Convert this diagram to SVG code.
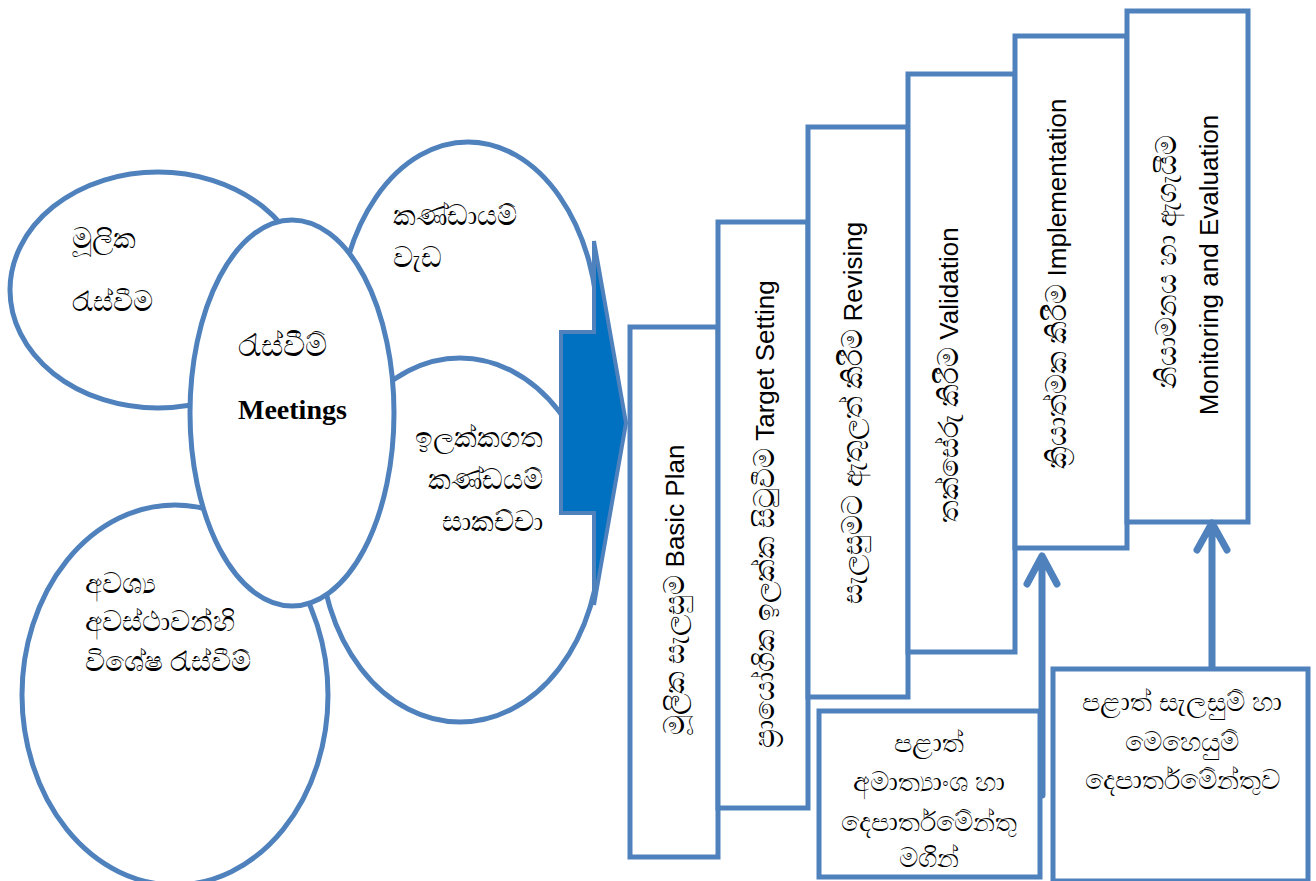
<svg xmlns="http://www.w3.org/2000/svg" width="1316" height="881" viewBox="0 0 1316 881">
<defs>
<style>
.sh{fill:#fff;stroke:#4F81BD;stroke-width:5}
.st{fill:#fff;stroke:#4F81BD;stroke-width:5}
.si{font-family:"Liberation Serif","Noto Sans",serif;font-size:28px;fill:#000}
.en{font-family:"Liberation Serif",serif;font-size:28px;font-weight:bold;fill:#000}
.rt{font-family:"Liberation Sans","Noto Sans",sans-serif;font-size:26px;fill:#000;text-anchor:middle}
.rs{font-size:28px}
.bx{font-family:"Liberation Serif","Noto Sans",serif;font-size:27px;fill:#000;text-anchor:middle}
.cn{fill:none;stroke:#4F81BD;stroke-width:7;stroke-linecap:round;stroke-linejoin:round}
</style>
</defs>
<rect width="1316" height="881" fill="#fff"/>

<g id="team-work">
<ellipse class="sh" cx="468" cy="330" rx="130" ry="188"/>
<text class="si" x="393" y="225">කණ්ඩායම්</text>
<text class="si" x="393" y="267">වැඩ</text>
</g>
<g id="targeted-discussions">
<ellipse class="sh" cx="460" cy="540" rx="140" ry="182"/>
<text class="si" x="543" y="447" text-anchor="end">ඉලක්කගත</text>
<text class="si" x="543" y="489" text-anchor="end">කණ්ඩයම්</text>
<text class="si" x="543" y="531" text-anchor="end">සාකච්චා</text>
</g>
<g id="basic-meetings">
<ellipse class="sh" cx="158" cy="290" rx="148" ry="118"/>
<text class="si" x="72" y="248">මූලික</text>
<text class="si" x="72" y="311">රැස්වීම</text>
</g>
<g id="special-meetings">
<ellipse class="sh" cx="175" cy="695" rx="153" ry="190"/>
<text class="si" x="85" y="593">අවශ්‍ය</text>
<text class="si" x="85" y="631">අවස්ථාවන්හි</text>
<text class="si" x="85" y="671">විශේෂ රැස්වීම්</text>
</g>
<g id="meetings">
<ellipse class="sh" cx="292" cy="413" rx="102" ry="193"/>
<text class="si" x="238" y="356" style="font-size:31px">රැස්වීම්</text>
<text class="en" x="238" y="419">Meetings</text>
</g>

<g id="big-arrow">
<polygon points="561,332 594,332 594,241 626,423 594,605 594,513 561,513" fill="#0070C0" stroke="#4F81BD" stroke-width="4" stroke-linejoin="miter"/>
</g>

<g id="step-basic-plan">
<rect class="st" x="630" y="327" width="88" height="530"/>
<text class="rt" transform="translate(684,590) rotate(-90)"><tspan class="rs">මූලික සැලසුම</tspan> Basic Plan</text>
</g>
<g id="step-target-setting">
<rect class="st" x="718" y="222" width="90" height="586"/>
<text class="rt" transform="translate(774,514) rotate(-90)"><tspan class="rs">ප්‍රායෝගික ඉලක්ක සිටුවීම</tspan> Target Setting</text>
</g>
<g id="step-revising">
<rect class="st" x="808" y="127" width="100" height="570"/>
<text class="rt" transform="translate(862,413) rotate(-90)"><tspan class="rs">සැලසුමට ඇතුලත් කිරීම</tspan> Revising</text>
</g>
<g id="step-validation">
<rect class="st" x="908" y="74" width="107" height="578"/>
<text class="rt" transform="translate(958,375) rotate(-90)"><tspan class="rs">තක්සේරු කිරීම</tspan> Validation</text>
</g>
<g id="step-implementation">
<rect class="st" x="1015" y="36" width="112" height="512"/>
<text class="rt" transform="translate(1066,284) rotate(-90)"><tspan class="rs">ක්‍රියාත්මක කිරීම</tspan> Implementation</text>
</g>
<g id="step-monitoring">
<rect class="st" x="1127" y="11" width="121" height="511"/>
<text class="rt" transform="translate(1176,262) rotate(-90)"><tspan class="rs">නියාමනය හා ඇගැයීම</tspan></text>
<text class="rt" transform="translate(1218,265) rotate(-90)">Monitoring and Evaluation</text>
</g>

<g id="provincial-ministries">
<rect class="st" x="819" y="711" width="221" height="166"/>
<text class="bx" x="929" y="752">පළාත්</text>
<text class="bx" x="929" y="791">අමාත්‍යාංශ හා</text>
<text class="bx" x="929" y="831">දෙපාර්තමේන්තු</text>
<text class="bx" x="929" y="867">මගින්</text>
</g>
<g id="provincial-planning-dept">
<rect class="st" x="1053" y="669" width="255" height="212"/>
<text class="bx" x="1182" y="711">පළාත් සැලසුම් හා</text>
<text class="bx" x="1182" y="751">මෙහෙයුම්</text>
<text class="bx" x="1182" y="789">දෙපාර්තමේන්තුව</text>
</g>

<g id="connectors">
<path class="cn" d="M1042,795 V556 M1027,584 L1042,556 L1057,584"/>
<path class="cn" d="M1212,667 V523 M1197,550 L1212,523 L1227,550"/>
</g>
</svg>
